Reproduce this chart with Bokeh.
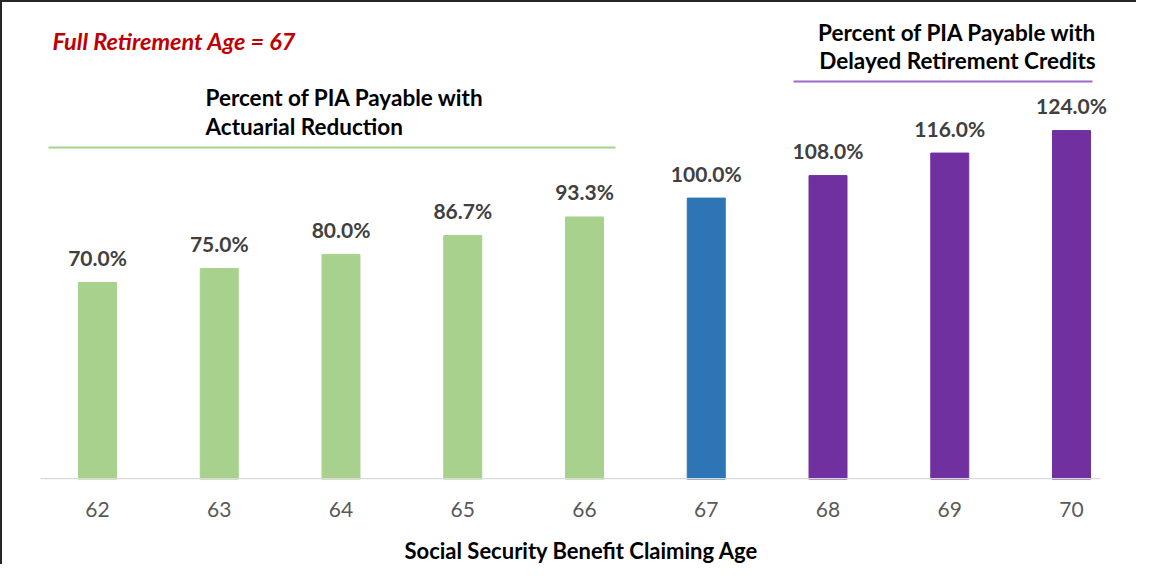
from bokeh.plotting import figure
from bokeh.models import Range1d, FixedTicker, Label, LabelSet, ColumnDataSource
from bokeh.embed import file_html
from bokeh.resources import INLINE
from bokeh.core.properties import value

# ---- data ----
ages = [62, 63, 64, 65, 66, 67, 68, 69, 70]
percents = [70.0, 75.0, 80.0, 86.7, 93.3, 100.0, 108.0, 116.0, 124.0]
colors = ["#A9D18E"] * 5 + ["#2E75B6"] + ["#7030A0"] * 3
labels = [f"{v:.1f}%" for v in percents]
tick_labels = {a: str(a) for a in ages}

title_left = "Full Retirement Age = 67"
note_reduction = ["Percent of PIA Payable with", "Actuarial Reduction"]
note_delayed = ["Percent of PIA Payable with", "Delayed Retirement Credits"]
x_title = "Social Security Benefit Claiming Age"

FONT = "Lato"

# ---- layout (positions in picture pixels) ----
B = 2  # css border width (top/left)
W, H = 1136, 564
frame_left, frame_right, frame_top, frame_bottom = 40, 1122, 8, 479
axis_end_px = 1100       # visible baseline ends here
px_per_cat = 121.75
first_center = 97
px_per_unit = 2.814

def px2x(px):
    return ages[0] + (px - first_center) / px_per_cat

def px2y(py):
    return (frame_bottom - py) / px_per_unit

p = figure(width=W, height=H, output_backend="svg", toolbar_location=None,
           x_range=Range1d(px2x(frame_left), px2x(frame_right)),
           y_range=Range1d(0, px2y(frame_top)),
           min_border_left=frame_left - B, min_border_right=W - (frame_right - B),
           min_border_top=frame_top - B, min_border_bottom=H - (frame_bottom - B),
           background_fill_color="white", border_fill_color="white")
p.styles = {"border-top": "2px solid #262626", "border-left": "2px solid #262626"}
p.outline_line_color = None
p.xgrid.visible = False
p.ygrid.visible = False
p.yaxis.visible = False

src = ColumnDataSource(dict(x=ages, top=percents, color=colors, label=labels))
p.vbar(x="x", top="top", bottom=0, width=38 / px_per_cat, color="color", source=src)
# baseline (drawn just inside the frame's bottom edge)
p.segment(x0=[px2x(frame_left)], y0=[px2y(478.3)], x1=[px2x(axis_end_px)], y1=[px2y(478.3)],
          line_color="#D9D9D9", line_width=1.5)
p.add_layout(LabelSet(x="x", y="top", text="label", source=src, text_align="center",
                      text_baseline="middle", y_offset=25, text_font=value(FONT),
                      text_font_style="bold", text_font_size="21px",
                      text_color="#404040"))

ax = p.xaxis[0]
ax.ticker = FixedTicker(ticks=ages)
ax.major_label_overrides = tick_labels
ax.axis_line_color = None
ax.major_tick_line_color = None
ax.minor_tick_line_color = None
ax.major_label_text_font = FONT
ax.major_label_text_font_size = "21px"
ax.major_label_text_color = "#595959"
ax.major_label_standoff = 16
ax.axis_label = x_title
ax.axis_label_text_font = FONT
ax.axis_label_text_font_style = "bold"
ax.axis_label_text_font_size = "22px"
ax.axis_label_text_color = "#000000"
ax.axis_label_standoff = 17

# decorative rules under notes
p.segment(x0=[px2x(48)], y0=[px2y(147)], x1=[px2x(615)], y1=[px2y(147)],
          line_color="#A9D18E", line_width=2)
p.segment(x0=[px2x(793)], y0=[px2y(81)], x1=[px2x(1092)], y1=[px2y(81)],
          line_color="#9B6BC9", line_width=2)

p.add_layout(Label(x=px2x(52), y=px2y(40), text=title_left, text_font=FONT,
                   text_font_style="bold italic", text_font_size="23.5px",
                   text_color="#C00000", text_baseline="middle"))
for i, t in enumerate(note_reduction):
    p.add_layout(Label(x=px2x(205), y=px2y(97 + 29 * i), text=t, text_font=FONT,
                       text_font_style="bold", text_font_size="22.5px",
                       text_color="#000000", text_baseline="middle"))
for i, t in enumerate(note_delayed):
    p.add_layout(Label(x=px2x(957), y=px2y(32 + 28 * i), text=t, text_font=FONT,
                       text_font_style="bold", text_font_size="22.5px",
                       text_color="#000000", text_baseline="middle",
                       text_align="center"))

open("out.html", "w").write(file_html(p, INLINE))
